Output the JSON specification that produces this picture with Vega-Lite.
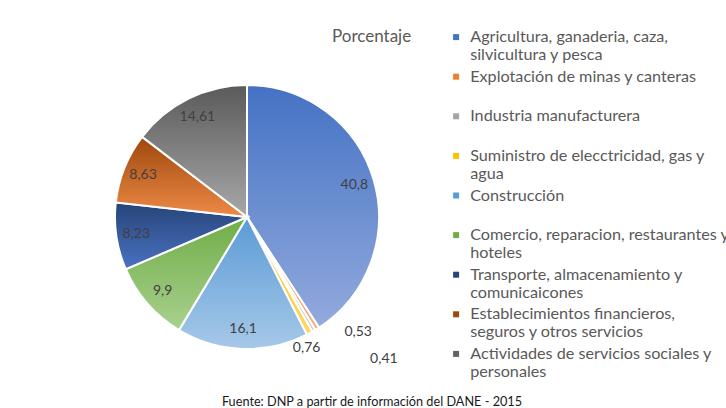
{
  "$schema": "https://vega.github.io/schema/vega-lite/v6.json",
  "width": 264,
  "height": 264,
  "autosize": {"type": "none"},
  "padding": {"left": 115, "top": 85, "right": 347, "bottom": 59},
  "background": "white",
  "config": {
    "view": {"stroke": null},
    "font": "Lato",
    "locale": {"number": {"decimal": ",", "thousands": ".", "grouping": [3], "currency": ["$", ""]}}
  },
  "title": {
    "text": "Fuente: DNP a partir de información del DANE - 2015",
    "orient": "bottom",
    "anchor": "middle",
    "frame": "group",
    "dx": 125,
    "offset": 12,
    "fontSize": 12.7,
    "font": "Lato",
    "fontWeight": "normal",
    "color": "#1a1a1a"
  },
  "data": {
    "values": [
      {"sector": "Agricultura, ganaderia, caza, silvicultura y pesca", "valor": 40.8, "orden": 1},
      {"sector": "Explotación de minas y canteras", "valor": 0.53, "orden": 2},
      {"sector": "Industria manufacturera", "valor": 0.41, "orden": 3},
      {"sector": "Suministro de elecctricidad, gas y agua", "valor": 0.76, "orden": 4},
      {"sector": "Construcción", "valor": 16.1, "orden": 5},
      {"sector": "Comercio, reparacion, restaurantes y hoteles", "valor": 9.9, "orden": 6},
      {"sector": "Transporte, almacenamiento y comunicaicones", "valor": 8.23, "orden": 7},
      {"sector": "Establecimientos financieros, seguros y otros servicios", "valor": 8.63, "orden": 8},
      {"sector": "Actividades de servicios sociales y personales", "valor": 14.61, "orden": 9}
    ]
  },
  "layer": [
    {
      "mark": {"type": "arc", "stroke": "white", "strokeWidth": 2},
      "encoding": {
        "theta": {"field": "valor", "type": "quantitative", "stack": true},
        "order": {"field": "orden", "type": "quantitative"},
        "color": {
          "field": "sector",
          "type": "nominal",
          "sort": null,
          "scale": {
            "domain": [
              "Agricultura, ganaderia, caza, silvicultura y pesca",
              "Explotación de minas y canteras",
              "Industria manufacturera",
              "Suministro de elecctricidad, gas y agua",
              "Construcción",
              "Comercio, reparacion, restaurantes y hoteles",
              "Transporte, almacenamiento y comunicaicones",
              "Establecimientos financieros, seguros y otros servicios",
              "Actividades de servicios sociales y personales"
            ],
            "range": ["#4472C4", "#ED7D31", "#A5A5A5", "#FFC000", "#5B9BD5", "#70AD47", "#264478", "#9E480E", "#636363"]
          },
          "legend": {
            "title": "Porcentaje",
            "orient": "none",
            "legendX": 217,
            "legendY": -56,
            "titleOrient": "left",
            "titleAnchor": "start",
            "titleFontSize": 17,
            "titleFontWeight": "normal",
            "titleColor": "#595959",
            "titleFont": "Lato",
            "titlePadding": 36,
            "titleBaseline": "top",
            "labelFont": "Lato",
            "labelFontSize": 16.2,
            "labelColor": "#595959",
            "labelLimit": 400,
            "labelOffset": 6,
            "symbolType": "square",
            "symbolSize": 36,
            "symbolStrokeWidth": 0,
            "rowPadding": 4.6,
            "gridAlign": "all",
            "encode": {"labels": {"update": {"lineHeight": {"value": 19}}}},
            "labelExpr": "datum.label == 'Agricultura, ganaderia, caza, silvicultura y pesca' ? ['Agricultura, ganaderia, caza,', 'silvicultura y pesca'] : datum.label == 'Suministro de elecctricidad, gas y agua' ? ['Suministro de elecctricidad, gas y', 'agua'] : datum.label == 'Comercio, reparacion, restaurantes y hoteles' ? ['Comercio, reparacion, restaurantes y', 'hoteles'] : datum.label == 'Transporte, almacenamiento y comunicaicones' ? ['Transporte, almacenamiento y', 'comunicaicones'] : datum.label == 'Establecimientos financieros, seguros y otros servicios' ? ['Establecimientos financieros,', 'seguros y otros servicios'] : datum.label == 'Actividades de servicios sociales y personales' ? ['Actividades de servicios sociales y', 'personales'] : [datum.label, '']"
          }
        }
      }
    },
    {
      "mark": {"type": "arc", "stroke": "white", "strokeWidth": 2},
      "encoding": {
        "theta": {"field": "valor", "type": "quantitative", "stack": true},
        "order": {"field": "orden", "type": "quantitative"},
        "fill": {
          "condition": [
            {"test": "datum.orden == 1", "value": {"gradient": "linear", "x1": 0, "y1": 0, "x2": 0, "y2": 1, "stops": [{"offset": 0, "color": "#4472C4"}, {"offset": 1, "color": "#93AADD"}]}},
            {"test": "datum.orden == 2", "value": {"gradient": "linear", "x1": 0, "y1": 0, "x2": 0, "y2": 1, "stops": [{"offset": 0, "color": "#ED7D31"}, {"offset": 1, "color": "#F4B183"}]}},
            {"test": "datum.orden == 3", "value": {"gradient": "linear", "x1": 0, "y1": 0, "x2": 0, "y2": 1, "stops": [{"offset": 0, "color": "#A5A5A5"}, {"offset": 1, "color": "#C9C9C9"}]}},
            {"test": "datum.orden == 4", "value": {"gradient": "linear", "x1": 0, "y1": 0, "x2": 0, "y2": 1, "stops": [{"offset": 0, "color": "#FFC000"}, {"offset": 1, "color": "#FFD966"}]}},
            {"test": "datum.orden == 5", "value": {"gradient": "linear", "x1": 0, "y1": 0, "x2": 0, "y2": 1, "stops": [{"offset": 0, "color": "#5B9BD5"}, {"offset": 1, "color": "#A6C8E8"}]}},
            {"test": "datum.orden == 6", "value": {"gradient": "linear", "x1": 0, "y1": 0, "x2": 0, "y2": 1, "stops": [{"offset": 0, "color": "#70AD47"}, {"offset": 1, "color": "#A9D18E"}]}},
            {"test": "datum.orden == 7", "value": {"gradient": "linear", "x1": 0, "y1": 0, "x2": 0, "y2": 1, "stops": [{"offset": 0, "color": "#264478"}, {"offset": 1, "color": "#4A72C2"}]}},
            {"test": "datum.orden == 8", "value": {"gradient": "linear", "x1": 0, "y1": 0, "x2": 0, "y2": 1, "stops": [{"offset": 0, "color": "#9E480E"}, {"offset": 1, "color": "#EE8A46"}]}},
            {"test": "datum.orden == 9", "value": {"gradient": "linear", "x1": 0, "y1": 0, "x2": 0, "y2": 1, "stops": [{"offset": 0, "color": "#5A5A5A"}, {"offset": 1, "color": "#A8A8A8"}]}}
          ],
          "value": "#cccccc"
        }
      }
    },
    {
      "mark": {"type": "text", "radius": 112, "font": "Lato", "fontSize": 14, "color": "#404040"},
      "encoding": {
        "theta": {"field": "valor", "type": "quantitative", "stack": true},
        "order": {"field": "orden", "type": "quantitative"},
        "text": {"condition": {"test": "datum.valor < 5", "value": ""}, "field": "valor", "type": "quantitative", "format": ".4~g"}
      }
    },
    {
      "mark": {"type": "text", "radius": 132, "dx": 41, "dy": 3, "font": "Lato", "fontSize": 14, "color": "#404040"},
      "encoding": {
        "theta": {"field": "valor", "type": "quantitative", "stack": true},
        "order": {"field": "orden", "type": "quantitative"},
        "text": {"condition": {"test": "datum.orden != 2", "value": ""}, "field": "valor", "type": "quantitative", "format": ".4~g"}
      }
    },
    {
      "mark": {"type": "text", "radius": 132, "dx": 70, "dy": 28, "font": "Lato", "fontSize": 14, "color": "#404040"},
      "encoding": {
        "theta": {"field": "valor", "type": "quantitative", "stack": true},
        "order": {"field": "orden", "type": "quantitative"},
        "text": {"condition": {"test": "datum.orden != 3", "value": ""}, "field": "valor", "type": "quantitative", "format": ".4~g"}
      }
    },
    {
      "mark": {"type": "text", "radius": 132, "dx": -3, "dy": 15, "font": "Lato", "fontSize": 14, "color": "#404040"},
      "encoding": {
        "theta": {"field": "valor", "type": "quantitative", "stack": true},
        "order": {"field": "orden", "type": "quantitative"},
        "text": {"condition": {"test": "datum.orden != 4", "value": ""}, "field": "valor", "type": "quantitative", "format": ".4~g"}
      }
    }
  ]
}
